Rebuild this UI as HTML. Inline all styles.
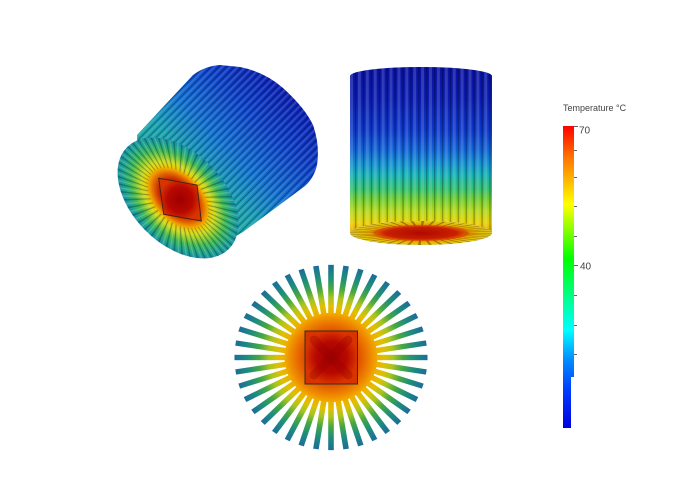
<!DOCTYPE html>
<html><head><meta charset="utf-8"><style>
html,body{margin:0;padding:0;background:#fff;width:685px;height:500px;overflow:hidden}
svg{display:block}
</style></head><body>
<svg width="685" height="500" viewBox="0 0 685 500" xmlns="http://www.w3.org/2000/svg" xmlns:xlink="http://www.w3.org/1999/xlink">
<defs>
<linearGradient id="cb" x1="0" y1="126" x2="0" y2="428" gradientUnits="userSpaceOnUse">
<stop offset="0" stop-color="#ff0000"/>
<stop offset="0.1" stop-color="#ff7000"/>
<stop offset="0.26" stop-color="#ffff00"/>
<stop offset="0.44" stop-color="#00ff00"/>
<stop offset="0.675" stop-color="#00ffff"/>
<stop offset="0.77" stop-color="#0090ff"/>
<stop offset="0.87" stop-color="#0040ff"/>
<stop offset="1" stop-color="#0000e0"/>
</linearGradient>
<linearGradient id="rv" x1="0" y1="67" x2="0" y2="246" gradientUnits="userSpaceOnUse">
<stop offset="0" stop-color="#0810a0"/>
<stop offset="0.18" stop-color="#0a1cb0"/>
<stop offset="0.35" stop-color="#0c36c8"/>
<stop offset="0.46" stop-color="#1060d4"/>
<stop offset="0.54" stop-color="#1290d0"/>
<stop offset="0.6" stop-color="#14b0b8"/>
<stop offset="0.68" stop-color="#30c070"/>
<stop offset="0.74" stop-color="#70cc30"/>
<stop offset="0.81" stop-color="#b8d818"/>
<stop offset="0.87" stop-color="#e8d000"/>
<stop offset="0.93" stop-color="#f0a000"/>
<stop offset="1" stop-color="#e06000"/>
</linearGradient>
<linearGradient id="lb" x1="170" y1="210" x2="290" y2="90" gradientUnits="userSpaceOnUse">
<stop offset="0" stop-color="#20b090"/>
<stop offset="0.3" stop-color="#18a0b0"/>
<stop offset="0.5" stop-color="#1070d0"/>
<stop offset="0.75" stop-color="#0c40c8"/>
<stop offset="1" stop-color="#0a1cb0"/>
</linearGradient>
<radialGradient id="ff">
<stop offset="0" stop-color="#a00000"/>
<stop offset="0.3" stop-color="#c02000"/>
<stop offset="0.4" stop-color="#e06000"/>
<stop offset="0.47" stop-color="#f09800"/>
<stop offset="0.53" stop-color="#e8c800"/>
<stop offset="0.6" stop-color="#d0d820"/>
<stop offset="0.68" stop-color="#90cc30"/>
<stop offset="0.78" stop-color="#40b858"/>
<stop offset="0.9" stop-color="#20a890"/>
<stop offset="1" stop-color="#1890a8"/>
</radialGradient>
<radialGradient id="fg" cx="0" cy="0" r="97" gradientUnits="userSpaceOnUse">
<stop offset="0.45" stop-color="#f0a800"/>
<stop offset="0.55" stop-color="#e0c000"/>
<stop offset="0.64" stop-color="#a8c420"/>
<stop offset="0.74" stop-color="#48a840"/>
<stop offset="0.85" stop-color="#209078"/>
<stop offset="1" stop-color="#1a6c9c"/>
</radialGradient>
<radialGradient id="hb" cx="0" cy="0" r="47" gradientUnits="userSpaceOnUse">
<stop offset="0" stop-color="#c02000"/>
<stop offset="0.5" stop-color="#d84000"/>
<stop offset="0.7" stop-color="#e86800"/>
<stop offset="0.88" stop-color="#f09000"/>
<stop offset="1" stop-color="#f0b000"/>
</radialGradient>
<radialGradient id="sq">
<stop offset="0" stop-color="#9c0000"/>
<stop offset="0.6" stop-color="#b80800"/>
<stop offset="1" stop-color="#d83400"/>
</radialGradient>
<radialGradient id="bf">
<stop offset="0" stop-color="#b00800"/>
<stop offset="0.5" stop-color="#c82000"/>
<stop offset="0.64" stop-color="#e05800"/>
<stop offset="0.7" stop-color="#e8a000"/>
<stop offset="0.85" stop-color="#e0c000"/>
<stop offset="1" stop-color="#d8c830"/>
</radialGradient>
<pattern id="vs" x="350" y="0" width="7.9" height="10" patternUnits="userSpaceOnUse">
<rect x="0" y="0" width="3" height="10" fill="#fff" opacity="0.16"/>
<rect x="5" y="0" width="1.3" height="10" fill="#000" opacity="0.3"/>
</pattern>
<pattern id="ds" width="5.5" height="10" patternUnits="userSpaceOnUse" patternTransform="rotate(45)">
<rect x="0" y="0" width="2" height="10" fill="#fff" opacity="0.14"/>
<rect x="3.5" y="0" width="1" height="10" fill="#000" opacity="0.3"/>
</pattern>
<g id="f5" fill="url(#fg)">
<rect x="43" y="-2.8" width="53.5" height="5.6"/>
<rect x="43" y="-2.8" width="53.5" height="5.6" transform="rotate(9)"/>
<rect x="43" y="-2.8" width="53.5" height="5.6" transform="rotate(18)"/>
<rect x="43" y="-2.8" width="53.5" height="5.6" transform="rotate(27)"/>
<rect x="43" y="-2.8" width="53.5" height="5.6" transform="rotate(36)"/>
</g>
</defs>

<!-- Left 3D view -->
<path id="lbody" d="M137,135 L193,75 Q205,66 220,65 L240,67 Q265,72 283,88 Q305,108 313,125 Q320,145 317,165 Q314,178 305,186 L243,232 L205,254 L180,240 L140,200 Z" fill="url(#lb)"/>
<path d="M137,135 L193,75 Q205,66 220,65 L240,67 Q265,72 283,88 Q305,108 313,125 Q320,145 317,165 Q314,178 305,186 L243,232 L205,254 L180,240 L140,200 Z" fill="url(#ds)"/>
<g transform="translate(178,198) rotate(45) scale(72,46)">
<circle cx="0" cy="0" r="1" fill="url(#ff)"/>
<circle cx="0" cy="0" r="0.75" fill="none" stroke="#083838" stroke-opacity="0.4" stroke-width="0.5" stroke-dasharray="0.022 0.0762"/>
<circle cx="0" cy="0" r="0.75" fill="none" stroke="#ffffa0" stroke-opacity="0.2" stroke-width="0.5" stroke-dasharray="0.02 0.0782" stroke-dashoffset="0.05"/>
</g>
<polygon points="158.7,178.3 197,185 201.3,221 163.7,214.3" fill="url(#sq)" stroke="#4a2218" stroke-width="1"/>

<!-- Right 3D view -->
<path d="M350,76 A71,9 0 0 1 492,76 L492,233 A71,12 0 0 0 350,233 Z" fill="url(#rv)"/>
<path d="M350,76 A71,9 0 0 1 492,76 L492,233 A71,12 0 0 0 350,233 Z" fill="url(#vs)"/>
<g transform="translate(421,233) scale(1,0.169)">
<circle cx="0" cy="0" r="71" fill="url(#bf)"/>
<circle cx="0" cy="0" r="58" fill="none" stroke="#5a2000" stroke-opacity="0.45" stroke-width="26" stroke-dasharray="2.5 6.61"/>
</g>

<!-- Bottom view -->
<g transform="translate(331,357.5) scale(1,0.96)">
<use xlink:href="#f5" href="#f5"/>
<use xlink:href="#f5" href="#f5" transform="rotate(45)"/>
<use xlink:href="#f5" href="#f5" transform="rotate(90)"/>
<use xlink:href="#f5" href="#f5" transform="rotate(135)"/>
<use xlink:href="#f5" href="#f5" transform="rotate(180)"/>
<use xlink:href="#f5" href="#f5" transform="rotate(225)"/>
<use xlink:href="#f5" href="#f5" transform="rotate(270)"/>
<use xlink:href="#f5" href="#f5" transform="rotate(315)"/>
<circle cx="0" cy="0" r="46.5" fill="url(#hb)"/>
</g>
<rect x="305" y="331" width="52.5" height="53" fill="url(#sq)" stroke="#3a2a20" stroke-width="1"/>
<g stroke="#9a0000" stroke-width="9" stroke-opacity="0.35" stroke-linecap="round">
<line x1="314" y1="340" x2="348" y2="375"/>
<line x1="348" y1="340" x2="314" y2="375"/>
</g>

<!-- Colorbar -->
<text x="563" y="111" font-family="Liberation Sans, sans-serif" font-size="9" fill="#444">Temperature °C</text>
<rect x="563" y="126" width="11" height="251" fill="url(#cb)"/>
<rect x="563" y="377" width="8" height="51" fill="url(#cb)"/>
<path d="M574,126.5h4M574,150.5h3M574,177.5h3M574,206.5h3M574,236.5h3M574,265.5h4M574,295.5h3M574,325.5h3M574,354.5h3" stroke="#666" stroke-width="1"/>
<text x="579" y="133.5" font-family="Liberation Sans, sans-serif" font-size="10" fill="#444">70</text>
<text x="580" y="269.5" font-family="Liberation Sans, sans-serif" font-size="10" fill="#444">40</text>
</svg>
</body></html>
